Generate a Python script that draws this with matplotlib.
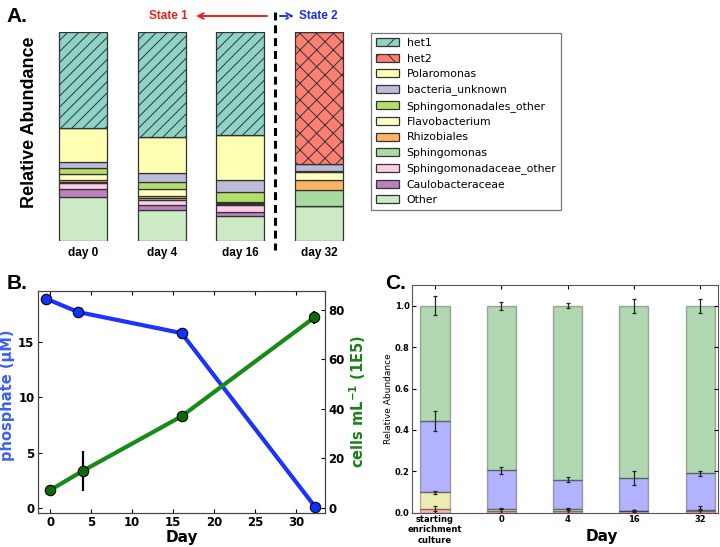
import numpy as np
import matplotlib
matplotlib.use('Agg')
from matplotlib import pyplot as plt
from matplotlib.patches import Patch
from matplotlib.lines import Line2D

W, H = 720.0, 547.0

# ---- panel A: community composition (fractions, days 0, 4, 16, 32)
days_a = ['day 0', 'day 4', 'day 16', 'day 32']
other = [0.210, 0.147, 0.118, 0.167]
caulobacteraceae = [0.038, 0.025, 0.019, 0.0]
sphingomonadaceae_other = [0.029, 0.022, 0.034, 0.0]
sphingomonas = [0.007, 0.010, 0.004, 0.075]
rhizobiales = [0.007, 0.010, 0.008, 0.050]
flavobacterium = [0.030, 0.032, 0.005, 0.036]
sphingomonadales_other = [0.027, 0.034, 0.048, 0.006]
bacteria_unknown = [0.030, 0.046, 0.054, 0.035]
polaromonas = [0.162, 0.173, 0.217, 0.0]
het2 = [0.0, 0.0, 0.0, 0.631]
het1 = [0.460, 0.501, 0.493, 0.0]

# ---- panel B: phosphate and cell counts
day_phos = [-0.5, 3.4, 16.0, 32.3]
phosphate = [18.9, 17.7, 15.8, 0.1]
day_cells = [0.0, 4.0, 16.0, 32.2]
cells = [7.2, 15.0, 37.0, 77.0]
cells_err = [0.0, 8.1, 0.0, 2.8]

# ---- panel C: relative abundance with error bars
samples_c = ['starting\nenrichment\nculture', '0', '4', '16', '32']
red_part = [0.018, 0.010, 0.008, 0.008, 0.008]
yellow_part = [0.080, 0.010, 0.010, 0.002, 0.007]
blue_part = [0.345, 0.185, 0.142, 0.158, 0.175]
green_part = [0.557, 0.795, 0.840, 0.832, 0.810]
red_err = [0.012, 0.010, 0.009, 0.003, 0.022]
yellow_err = [0.007, 0.003, 0.003, 0.002, 0.003]
blue_err = [0.047, 0.016, 0.012, 0.032, 0.012]
green_err = [0.047, 0.020, 0.013, 0.034, 0.034]

plt.rcParams['font.family'] = 'DejaVu Sans'
plt.rcParams['hatch.linewidth'] = 0.7
ARIAL = 'Liberation Sans'

fig = plt.figure(figsize=(7.2, 5.47), dpi=100)


def fx(px):
    return px / W


def fy(py):
    return 1 - py / H


# ================= A =================
ax_a = fig.add_axes([fx(43.7), fy(240.7), 314.6 / W, 208.4 / H])
ax_a.set_xlim(-0.5, 3.5)
ax_a.set_ylim(0, 1)
ax_a.axis('off')

layers = [
    ('Other', other, '#ccebc5', None),
    ('Caulobacteraceae', caulobacteraceae, '#bc80bd', None),
    ('Sphingomonadaceae_other', sphingomonadaceae_other, '#fccde5', None),
    ('Sphingomonas', sphingomonas, '#a8dba0', None),
    ('Rhizobiales', rhizobiales, '#fdb462', None),
    ('Flavobacterium', flavobacterium, '#ffffc4', None),
    ('Sphingomonadales_other', sphingomonadales_other, '#b3de69', None),
    ('bacteria_unknown', bacteria_unknown, '#bebada', None),
    ('Polaromonas', polaromonas, '#ffffb3', None),
    ('het2', het2, '#fb8072', 'xx'),
    ('het1', het1, '#8dd3c7', '///'),
]

x_a = np.arange(len(days_a))
bottom = np.zeros(len(days_a))
handles = []
for name, vals, col, hatch in layers:
    vals = np.array(vals)
    ax_a.bar(x_a, vals, 0.61, bottom=bottom, color=col, edgecolor='#333333',
             linewidth=0.9, hatch=hatch)
    bottom += vals
    handles.append(Patch(facecolor=col, edgecolor='#333333', linewidth=0.9,
                         hatch=('/' if hatch == '///' else ('x' if hatch else None)),
                         label=name))

for i, lab in enumerate(days_a):
    ax_a.text(i, -0.059, lab, ha='center', va='center', fontsize=8.5,
              fontweight='bold', family=ARIAL, clip_on=False)

fig.text(fx(29), fy(122), 'Relative Abundance', rotation=90, ha='center',
         va='center', fontsize=13, fontweight='bold', family=ARIAL)
fig.text(fx(6), fy(16), 'A.', ha='left', va='center', fontsize=15,
         fontweight='bold', family=ARIAL)

# state divider
fig.add_artist(Line2D([fx(275), fx(275)], [fy(12), fy(250)], transform=fig.transFigure,
                      color='black', lw=2.2, ls=(0, (2.6, 1.6))))
fig.text(fx(168.5), fy(16), 'State 1', color='#e8231c', ha='center', va='center',
         fontsize=8.5, fontweight='bold', family=ARIAL)
fig.text(fx(318.5), fy(16), 'State 2', color='#1f2fe0', ha='center', va='center',
         fontsize=8.5, fontweight='bold', family=ARIAL)
fig.add_artist(plt.Annotation('', xy=(fx(196), fy(16)), xytext=(fx(267), fy(16)),
                              xycoords='figure fraction',
                              arrowprops=dict(arrowstyle='->', color='#e8231c', lw=1.4,
                                              shrinkA=0, shrinkB=0)))
fig.add_artist(plt.Annotation('', xy=(fx(294), fy(16)), xytext=(fx(280), fy(16)),
                              xycoords='figure fraction',
                              arrowprops=dict(arrowstyle='->', color='#1f2fe0', lw=1.4,
                                              ls='--', shrinkA=0, shrinkB=0)))

leg = fig.legend(handles=handles[::-1], loc='upper left',
                 bbox_to_anchor=(fx(371), fy(33.3)), fontsize=7.8,
                 frameon=True, fancybox=False, labelspacing=0.5,
                 handlelength=2.1, handleheight=0.75, handletextpad=0.75,
                 borderpad=0.45, borderaxespad=0)
leg.get_frame().set_edgecolor('#555555')
leg.get_frame().set_linewidth(0.9)

# ================= B =================
tick_kw = dict(direction='in', length=3, width=0.8, labelsize=8.5, pad=2.5)
ax_b = fig.add_axes([fx(38), fy(513), 287 / W, 222 / H])
ax_b2 = ax_b.twinx()

ax_b.plot(day_phos, phosphate, '-o', color='#1a33ff', lw=3, ms=7.5,
          mfc='#1133ff', mec='black', mew=0.8)
ax_b2.errorbar(day_cells, cells, yerr=cells_err, fmt='-o', color='#178a17', lw=3,
               ms=7.5, mfc='#0b6b0b', mec='black', mew=0.8, ecolor='black',
               elinewidth=1.6, capsize=0)

ax_b.set_xlim(-1.5, 33.5)
ax_b.set_ylim(-0.45, 19.6)
ax_b2.set_ylim(-2.1, 87.7)
ax_b.set_xticks([0, 5, 10, 15, 20, 25, 30])
ax_b.set_yticks([0, 5, 10, 15])
ax_b2.set_yticks([0, 20, 40, 60, 80])
ax_b.tick_params(axis='both', top=True, **tick_kw)
ax_b.tick_params(axis='y', right=False)
ax_b2.tick_params(axis='y', **tick_kw)
for a in (ax_b, ax_b2):
    for t in a.get_xticklabels() + a.get_yticklabels():
        t.set_fontweight('bold')
    for s in a.spines.values():
        s.set_color('#444444')
        s.set_linewidth(0.8)

ax_b.set_ylabel('phosphate (\u03bcM)', color='#3a62f0', fontsize=10.5, fontweight='bold')
ax_b.yaxis.set_label_coords(-0.08, 0.53)
ax_b2.set_ylabel(r'cells mL$^{\mathbf{-1}}$ (1E5)', color='#1a7f1a', fontsize=10.5,
                 fontweight='bold')
ax_b2.yaxis.set_label_coords(1.077, 0.5)
ax_b.set_xlabel('Day', fontsize=11, fontweight='bold')
ax_b.xaxis.set_label_coords(0.5, -0.075)
fig.text(fx(7), fy(284), 'B.', ha='left', va='center', fontsize=15,
         fontweight='bold', family=ARIAL)

# ================= C =================
ax_c = fig.add_axes([fx(411.7), fy(512.7), 306.3 / W, 227.7 / H])
x_c = np.arange(len(samples_c))
bottom = np.zeros(len(samples_c))
for vals, errs, col in [(red_part, red_err, 'r'), (yellow_part, yellow_err, 'y'),
                        (blue_part, blue_err, 'b'), (green_part, green_err, 'g')]:
    vals = np.array(vals)
    ax_c.bar(x_c, vals, 0.44, bottom=bottom, color=col, alpha=0.3,
             edgecolor='k', linewidth=1.0)
    bottom += vals
    ax_c.errorbar(x_c, bottom, yerr=errs, fmt='none', ecolor='#222222',
                  elinewidth=0.9, capsize=1.6, capthick=0.9)

ax_c.set_xlim(-0.352, 4.27)
ax_c.set_ylim(0, 1.1)
ax_c.set_yticks(np.arange(0, 1.01, 0.2))
ax_c.set_yticklabels(['%.1f' % v for v in np.arange(0, 1.01, 0.2)])
ax_c.set_xticks(x_c)
ax_c.set_xticklabels(samples_c)
ax_c.tick_params(axis='both', direction='in', length=3, width=0.8, labelsize=6,
                 top=True, right=True, pad=1.5)
for t in ax_c.get_xticklabels() + ax_c.get_yticklabels():
    t.set_fontweight('bold')
for s in ax_c.spines.values():
    s.set_color('#555555')
    s.set_linewidth(0.8)
ax_c.set_ylabel('Relative Abundance', fontsize=6.5)
ax_c.yaxis.set_label_coords(-0.062, 0.5)
ax_c.set_xlabel('Day', fontsize=11, fontweight='bold')
ax_c.xaxis.set_label_coords(0.621, -0.072)
fig.text(fx(385), fy(284), 'C.', ha='left', va='center', fontsize=15,
         fontweight='bold', family=ARIAL)

fig.savefig('out.png', dpi=100)
